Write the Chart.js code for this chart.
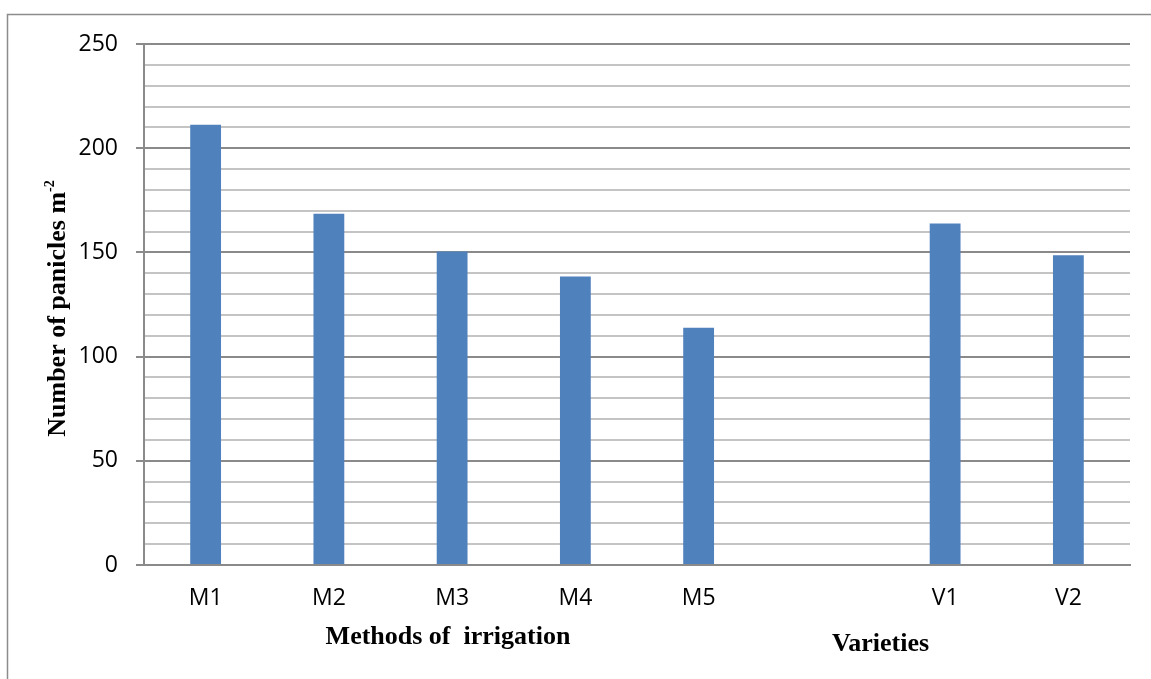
<!DOCTYPE html>
<html>
<head>
<meta charset="utf-8">
<script src="https://cdn.jsdelivr.net/npm/chart.js@4/dist/chart.umd.min.js"></script>
<style>
  html, body { margin: 0; padding: 0; background: #ffffff; }
  #wrap { width: 1151px; height: 679px; }
</style>
</head>
<body>
<div id="wrap"><canvas id="chart" width="1151" height="679"></canvas></div>
<script>
// Treatments: irrigation methods, a spacer slot, then varieties
const categories = ['M1', 'M2', 'M3', 'M4', 'M5', '', 'V1', 'V2'];
// Number of panicles per square metre
const panicles = [211.2, 168.6, 150.4, 138.4, 113.9, null, 163.9, 148.6];
// Labelled y ticks and their spacing
const yMajorStep = 50;
const yMinorStep = 10;
const yMax = 250;

const yTitle = 'Number of panicles m';
const yTitleSup = '-2';
const methodsTitle = 'Methods of  irrigation';
const varietiesTitle = 'Varieties';

const BAR = '#4F81BD';
const GRID_MAJOR = '#8a8a8a';
const GRID_MINOR = '#c4c4c4';
const TICK_FONT = { family: '"Open Sans", sans-serif', size: 23 };
const TITLE_FAMILY = '"Liberation Serif", "Times New Roman", serif';

const titlesPlugin = {
  id: 'titles',
  beforeDraw(chart) {
    // Frame around the whole figure
    const ctx = chart.ctx;
    ctx.save();
    ctx.strokeStyle = '#8c8c8c';
    ctx.lineWidth = 1.5;
    ctx.strokeRect(7.5, 14.5, 1200, 700);
    ctx.restore();
  },
  afterDraw(chart) {
    const ctx = chart.ctx;
    const area = chart.chartArea;
    ctx.save();
    ctx.fillStyle = '#000000';

    // Rotated y-axis title with a superscript exponent
    ctx.save();
    ctx.font = 'bold 26px ' + TITLE_FAMILY;
    const mainW = ctx.measureText(yTitle).width;
    ctx.font = 'bold 14px ' + TITLE_FAMILY;
    const supW = ctx.measureText(yTitleSup).width;
    const total = mainW + supW;
    const cy = (area.top + area.bottom) / 2 + 4;
    ctx.translate(65, cy);
    ctx.rotate(-Math.PI / 2);
    ctx.textBaseline = 'alphabetic';
    ctx.textAlign = 'left';
    ctx.font = 'bold 26px ' + TITLE_FAMILY;
    ctx.fillText(yTitle, -total / 2, 0);
    ctx.font = 'bold 14px ' + TITLE_FAMILY;
    ctx.fillText(yTitleSup, -total / 2 + mainW, -11);
    ctx.restore();

    // Group titles under the category labels
    ctx.font = 'bold 26px ' + TITLE_FAMILY;
    ctx.textAlign = 'center';
    ctx.textBaseline = 'alphabetic';
    ctx.fillText(methodsTitle, 448, 644);
    ctx.fillText(varietiesTitle, 880.5, 651);
    ctx.restore();
  }
};

new Chart(document.getElementById('chart'), {
  type: 'bar',
  data: {
    labels: categories,
    datasets: [{
      data: panicles,
      backgroundColor: BAR,
      borderWidth: 0,
      barPercentage: 0.25,
      categoryPercentage: 1.0
    }]
  },
  options: {
    responsive: false,
    animation: false,
    events: [],
    layout: { padding: { left: 0, right: 21, top: 44, bottom: 0 } },
    plugins: {
      legend: { display: false },
      tooltip: { enabled: false },
      title: { display: false }
    },
    scales: {
      x: {
        grid: { display: false, drawTicks: false },
        border: { display: true, color: GRID_MAJOR, width: 2 },
        ticks: { color: '#000000', font: TICK_FONT, padding: 20, maxRotation: 0, autoSkip: false },
        afterFit(scale) { scale.height = 114; }
      },
      y: {
        min: 0,
        max: yMax,
        grid: {
          color: ctx => (ctx.tick && ctx.tick.value % yMajorStep === 0) ? GRID_MAJOR : GRID_MINOR,
          tickColor: ctx => (ctx.tick && ctx.tick.value % yMajorStep === 0) ? GRID_MAJOR : 'rgba(0,0,0,0)',
          lineWidth: 2,
          tickLength: 8,
          drawTicks: true
        },
        border: { display: true, color: GRID_MAJOR, width: 2 },
        ticks: {
          stepSize: yMinorStep,
          color: '#000000',
          font: TICK_FONT,
          padding: 18,
          autoSkip: false,
          callback: v => (v % yMajorStep === 0 ? String(v) : '')
        },
        afterFit(scale) { scale.width = 144; }
      }
    }
  },
  plugins: [titlesPlugin]
});
</script>
</body>
</html>
